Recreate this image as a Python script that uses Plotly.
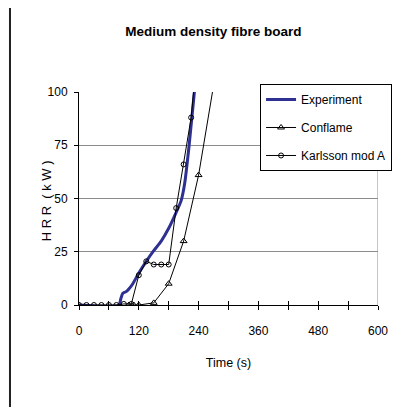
import plotly.graph_objects as go

# data
exp_t = [0, 80, 84, 88, 92, 96, 100, 108, 120, 135, 150, 165, 180, 195, 205, 212, 221, 232]
exp_hrr = [0, 0, 3, 5.5, 6, 6.5, 7.5, 10, 15, 20.5, 25.5, 30, 36, 43.5, 49, 57, 75, 101]

conf_t = [100, 110, 120, 150, 180, 210, 240, 270]
conf_hrr = [0, 0, 0, 1, 10, 30, 61, 103]

karl_t = [0, 15, 30, 45, 60, 75, 90, 105, 120, 135, 150, 165, 180, 195, 210, 225, 240]
karl_hrr = [0, 0, 0, 0, 0, 0, 0.5, 0.5, 14, 20.5, 19, 19, 19, 45.5, 66, 88, 125]

x_ticks = [0, 60, 120, 180, 240, 300, 360, 420, 480, 540, 600]
x_labels = ['0', '', '120', '', '240', '', '360', '', '480', '', '600']
y_ticks = [0, 25, 50, 75, 100]

FONT = 'Liberation Sans, Arial'

fig = go.Figure()
fig.add_trace(go.Scatter(x=exp_t, y=exp_hrr, mode='lines', name='Experiment',
                         legendgroup='a',
                         line=dict(color='#2E3192', width=3, shape='spline', smoothing=0.6)))
fig.add_trace(go.Scatter(x=conf_t, y=conf_hrr, mode='lines+markers', name='Conflame',
                         legendgroup='b',
                         line=dict(color='black', width=1),
                         marker=dict(symbol='triangle-up-open', size=6, color='black')))
fig.add_trace(go.Scatter(x=karl_t, y=karl_hrr, mode='lines+markers', name='Karlsson mod A',
                         legendgroup='c',
                         line=dict(color='black', width=1),
                         marker=dict(symbol='circle-open', size=5, color='black')))
# invisible trace to carry the inner half of the crossing x ticks
fig.add_trace(go.Scatter(x=[0, 600], y=[None, None], xaxis='x2', showlegend=False,
                         hoverinfo='skip'))

# page has an 8px body margin, so the figure is drawn 8px smaller and shifted
fig.update_layout(
    width=398, height=399,
    margin=dict(l=71, r=28, t=84, b=102),
    paper_bgcolor='white', plot_bgcolor='white',
    font=dict(family=FONT, size=12, color='black'),
    title=dict(text='<b>Medium density fibre board</b>', x=0.516, xanchor='center',
               y=0.9406, yanchor='middle', yref='container',
               font=dict(family=FONT, size=13.5, color='black')),
    xaxis=dict(range=[0, 600], tickvals=x_ticks, ticktext=x_labels,
               showgrid=False, zeroline=False,
               showline=True, linecolor='black', linewidth=1,
               ticks='outside', ticklen=4, tickcolor='black',
               ticklabelstandoff=11,
               title=dict(text='Time (s)', standoff=20, font=dict(size=12.5))),
    xaxis2=dict(range=[0, 600], tickvals=x_ticks, overlaying='x', anchor='y', side='bottom',
                showticklabels=False, showgrid=False, zeroline=False, showline=False,
                ticks='inside', ticklen=4, tickcolor='black'),
    yaxis=dict(range=[0, 100], tickvals=y_ticks,
               showgrid=True, gridcolor='#8c8c8c', gridwidth=1, zeroline=False,
               showline=True, linecolor='black', linewidth=1,
               ticks='outside', ticklen=4, tickcolor='black',
               ticklabelstandoff=4),
    legend=dict(x=1.047, xanchor='right', y=1.0376, yanchor='top',
                bordercolor='black', borderwidth=1, bgcolor='white',
                tracegroupgap=9, font=dict(family=FONT, size=12)),
    annotations=[
        dict(text='H R R  ( k W )', textangle=-90, xref='paper', yref='paper',
             x=-0.108, y=0.49, xanchor='center', yanchor='middle', showarrow=False,
             font=dict(family=FONT, size=13)),
    ],
    shapes=[
        # darker middle gridline
        dict(type='line', xref='paper', x0=0, x1=1, yref='y', y0=50, y1=50,
             line=dict(color='black', width=1), layer='below'),
        # right border of plot area
        dict(type='line', xref='x', x0=600, x1=600, yref='y', y0=0, y1=100,
             line=dict(color='#8c8c8c', width=1), layer='below'),
        # outer chart frame (left and top edges)
        dict(type='line', xref='paper', x0=-0.2308, x1=-0.2308, yref='paper', y0=1.41, y1=-0.6,
             line=dict(color='#222222', width=2)),
        dict(type='line', xref='paper', x0=-0.2308, x1=1.2, yref='paper', y0=1.41, y1=1.41,
             line=dict(color='#111111', width=2)),
    ],
)

fig.write_html('out.html')
